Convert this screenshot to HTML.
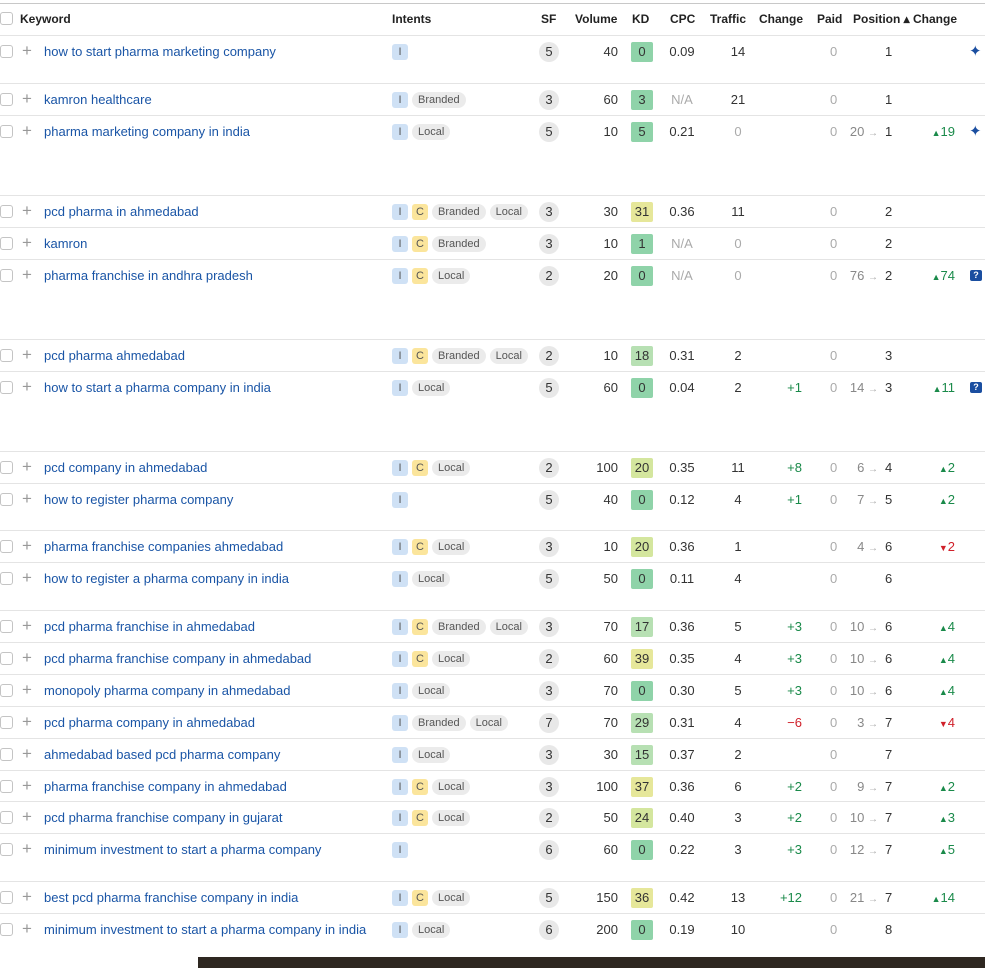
<!DOCTYPE html>
<html><head><meta charset="utf-8"><style>
*{margin:0;padding:0;box-sizing:border-box}
body{width:985px;height:968px;background:#fff;position:relative;overflow:hidden;font-family:"Liberation Sans",sans-serif;font-size:13px;color:#333}
.top{position:absolute;left:0;top:3px;width:985px;height:1px;background:#c8c8c8}
.hd{position:absolute;top:12px;font-weight:bold;font-size:12px;color:#222}
.r{position:absolute;left:0;width:985px;border-top:1px solid #e4e4e4}
.r>*{position:absolute;top:8px;line-height:16px;white-space:nowrap}
.cb{left:0;top:9px!important;width:13px;height:13px;border:1px solid #c4c4c4;border-radius:3px;display:block}
.pl{left:22px;color:#999;font-size:17px;top:7px!important}
.kw{left:44px;color:#1a55a6}
.in{left:392px;display:flex;gap:4px}
.in b{font-weight:normal;font-size:11px;height:16px;line-height:16px;border-radius:3px;padding:0 5px;color:#555}
.bi,.bc{width:16px;padding:0!important;text-align:center}
.bi{background:#cfe1f5}.bc{background:#fbe59c}.bt{background:#ebebeb;border-radius:8px!important;padding:0 6px!important}
.sf{left:539px;width:20px;height:20px;top:6px!important;line-height:20px!important;border-radius:10px;background:#e8e8e8;text-align:center}
.vol{right:367px;text-align:right}
.kd{left:631px;width:22px;height:20px;top:6px!important;line-height:20px!important;text-align:center;border-radius:2px}
.g{background:#8fd3a9}.lg{background:#b7e0b3}.yg{background:#d4e69e}.y{background:#e6e79a}
.cpc{left:666px;width:32px;text-align:center}
.tr{left:722px;width:32px;text-align:center}
.ch{right:183px;color:#1a8a4a}
.pd{left:830px;color:#aaa}
.pv{right:107px;color:#888}
.pv i{font-style:normal;font-size:10px;color:#aaa}
.ps{left:885px}
.c2{right:30px;color:#1a8a4a;font-size:13px}
.c2 i{font-style:normal;font-size:9px}
.red{color:#d0202a}
.na{color:#aaa}
.ic{left:969px;color:#1a4ea0;font-size:15px}
.bub{left:970px;top:10px!important;width:12px;height:11px;background:#1a4ea0;border-radius:2px;color:#fff;font-size:9px;line-height:11px!important;text-align:center;font-weight:bold}
.tb{position:absolute;left:198px;top:957px;width:787px;height:11px;background:#2e2721}
</style></head><body>
<div class="top"></div>
<div style="position:absolute;top:12px;left:0;width:13px;height:13px;border:1px solid #c4c4c4;border-radius:3px"></div>
<div class="hd" style="left:20px">Keyword</div>
<div class="hd" style="left:392px">Intents</div>
<div class="hd" style="left:541px">SF</div>
<div class="hd" style="left:575px">Volume</div>
<div class="hd" style="left:632px">KD</div>
<div class="hd" style="left:670px">CPC</div>
<div class="hd" style="left:710px">Traffic</div>
<div class="hd" style="left:759px">Change</div>
<div class="hd" style="left:817px">Paid</div>
<div class="hd" style="left:853px">Position ▴</div>
<div class="hd" style="left:913px">Change</div>

<div class="r" style="top:35px;height:48px"><i class="cb"></i><span class="pl">+</span><span class="kw">how to start pharma marketing company</span><span class="in"><b class="bi">I</b></span><span class="sf">5</span><span class="vol">40</span><span class="kd g">0</span><span class="cpc">0.09</span><span class="tr">14</span><span class="pd">0</span><span class="ps">1</span><span class="ic">✦</span></div>
<div class="r" style="top:83px;height:32px"><i class="cb"></i><span class="pl">+</span><span class="kw">kamron healthcare</span><span class="in"><b class="bi">I</b><b class="bt">Branded</b></span><span class="sf">3</span><span class="vol">60</span><span class="kd g">3</span><span class="cpc na">N/A</span><span class="tr">21</span><span class="pd">0</span><span class="ps">1</span></div>
<div class="r" style="top:115px;height:80px"><i class="cb"></i><span class="pl">+</span><span class="kw">pharma marketing company in india</span><span class="in"><b class="bi">I</b><b class="bt">Local</b></span><span class="sf">5</span><span class="vol">10</span><span class="kd g">5</span><span class="cpc">0.21</span><span class="tr na">0</span><span class="pd">0</span><span class="pv">20 <i>→</i></span><span class="ps">1</span><span class="c2"><i>▲</i>19</span><span class="ic">✦</span></div>
<div class="r" style="top:195px;height:32px"><i class="cb"></i><span class="pl">+</span><span class="kw">pcd pharma in ahmedabad</span><span class="in"><b class="bi">I</b><b class="bc">C</b><b class="bt">Branded</b><b class="bt">Local</b></span><span class="sf">3</span><span class="vol">30</span><span class="kd y">31</span><span class="cpc">0.36</span><span class="tr">11</span><span class="pd">0</span><span class="ps">2</span></div>
<div class="r" style="top:227px;height:32px"><i class="cb"></i><span class="pl">+</span><span class="kw">kamron</span><span class="in"><b class="bi">I</b><b class="bc">C</b><b class="bt">Branded</b></span><span class="sf">3</span><span class="vol">10</span><span class="kd g">1</span><span class="cpc na">N/A</span><span class="tr na">0</span><span class="pd">0</span><span class="ps">2</span></div>
<div class="r" style="top:259px;height:80px"><i class="cb"></i><span class="pl">+</span><span class="kw">pharma franchise in andhra pradesh</span><span class="in"><b class="bi">I</b><b class="bc">C</b><b class="bt">Local</b></span><span class="sf">2</span><span class="vol">20</span><span class="kd g">0</span><span class="cpc na">N/A</span><span class="tr na">0</span><span class="pd">0</span><span class="pv">76 <i>→</i></span><span class="ps">2</span><span class="c2"><i>▲</i>74</span><span class="bub">?</span></div>
<div class="r" style="top:339px;height:32px"><i class="cb"></i><span class="pl">+</span><span class="kw">pcd pharma ahmedabad</span><span class="in"><b class="bi">I</b><b class="bc">C</b><b class="bt">Branded</b><b class="bt">Local</b></span><span class="sf">2</span><span class="vol">10</span><span class="kd lg">18</span><span class="cpc">0.31</span><span class="tr">2</span><span class="pd">0</span><span class="ps">3</span></div>
<div class="r" style="top:371px;height:80px"><i class="cb"></i><span class="pl">+</span><span class="kw">how to start a pharma company in india</span><span class="in"><b class="bi">I</b><b class="bt">Local</b></span><span class="sf">5</span><span class="vol">60</span><span class="kd g">0</span><span class="cpc">0.04</span><span class="tr">2</span><span class="ch">+1</span><span class="pd">0</span><span class="pv">14 <i>→</i></span><span class="ps">3</span><span class="c2"><i>▲</i>11</span><span class="bub">?</span></div>
<div class="r" style="top:451px;height:32px"><i class="cb"></i><span class="pl">+</span><span class="kw">pcd company in ahmedabad</span><span class="in"><b class="bi">I</b><b class="bc">C</b><b class="bt">Local</b></span><span class="sf">2</span><span class="vol">100</span><span class="kd yg">20</span><span class="cpc">0.35</span><span class="tr">11</span><span class="ch">+8</span><span class="pd">0</span><span class="pv">6 <i>→</i></span><span class="ps">4</span><span class="c2"><i>▲</i>2</span></div>
<div class="r" style="top:483px;height:47px"><i class="cb"></i><span class="pl">+</span><span class="kw">how to register pharma company</span><span class="in"><b class="bi">I</b></span><span class="sf">5</span><span class="vol">40</span><span class="kd g">0</span><span class="cpc">0.12</span><span class="tr">4</span><span class="ch">+1</span><span class="pd">0</span><span class="pv">7 <i>→</i></span><span class="ps">5</span><span class="c2"><i>▲</i>2</span></div>
<div class="r" style="top:530px;height:32px"><i class="cb"></i><span class="pl">+</span><span class="kw">pharma franchise companies ahmedabad</span><span class="in"><b class="bi">I</b><b class="bc">C</b><b class="bt">Local</b></span><span class="sf">3</span><span class="vol">10</span><span class="kd yg">20</span><span class="cpc">0.36</span><span class="tr">1</span><span class="pd">0</span><span class="pv">4 <i>→</i></span><span class="ps">6</span><span class="c2 red"><i>▼</i>2</span></div>
<div class="r" style="top:562px;height:48px"><i class="cb"></i><span class="pl">+</span><span class="kw">how to register a pharma company in india</span><span class="in"><b class="bi">I</b><b class="bt">Local</b></span><span class="sf">5</span><span class="vol">50</span><span class="kd g">0</span><span class="cpc">0.11</span><span class="tr">4</span><span class="pd">0</span><span class="ps">6</span></div>
<div class="r" style="top:610px;height:32px"><i class="cb"></i><span class="pl">+</span><span class="kw">pcd pharma franchise in ahmedabad</span><span class="in"><b class="bi">I</b><b class="bc">C</b><b class="bt">Branded</b><b class="bt">Local</b></span><span class="sf">3</span><span class="vol">70</span><span class="kd lg">17</span><span class="cpc">0.36</span><span class="tr">5</span><span class="ch">+3</span><span class="pd">0</span><span class="pv">10 <i>→</i></span><span class="ps">6</span><span class="c2"><i>▲</i>4</span></div>
<div class="r" style="top:642px;height:32px"><i class="cb"></i><span class="pl">+</span><span class="kw">pcd pharma franchise company in ahmedabad</span><span class="in"><b class="bi">I</b><b class="bc">C</b><b class="bt">Local</b></span><span class="sf">2</span><span class="vol">60</span><span class="kd y">39</span><span class="cpc">0.35</span><span class="tr">4</span><span class="ch">+3</span><span class="pd">0</span><span class="pv">10 <i>→</i></span><span class="ps">6</span><span class="c2"><i>▲</i>4</span></div>
<div class="r" style="top:674px;height:32px"><i class="cb"></i><span class="pl">+</span><span class="kw">monopoly pharma company in ahmedabad</span><span class="in"><b class="bi">I</b><b class="bt">Local</b></span><span class="sf">3</span><span class="vol">70</span><span class="kd g">0</span><span class="cpc">0.30</span><span class="tr">5</span><span class="ch">+3</span><span class="pd">0</span><span class="pv">10 <i>→</i></span><span class="ps">6</span><span class="c2"><i>▲</i>4</span></div>
<div class="r" style="top:706px;height:32px"><i class="cb"></i><span class="pl">+</span><span class="kw">pcd pharma company in ahmedabad</span><span class="in"><b class="bi">I</b><b class="bt">Branded</b><b class="bt">Local</b></span><span class="sf">7</span><span class="vol">70</span><span class="kd lg">29</span><span class="cpc">0.31</span><span class="tr">4</span><span class="ch red">−6</span><span class="pd">0</span><span class="pv">3 <i>→</i></span><span class="ps">7</span><span class="c2 red"><i>▼</i>4</span></div>
<div class="r" style="top:738px;height:32px"><i class="cb"></i><span class="pl">+</span><span class="kw">ahmedabad based pcd pharma company</span><span class="in"><b class="bi">I</b><b class="bt">Local</b></span><span class="sf">3</span><span class="vol">30</span><span class="kd lg">15</span><span class="cpc">0.37</span><span class="tr">2</span><span class="pd">0</span><span class="ps">7</span></div>
<div class="r" style="top:770px;height:31px"><i class="cb"></i><span class="pl">+</span><span class="kw">pharma franchise company in ahmedabad</span><span class="in"><b class="bi">I</b><b class="bc">C</b><b class="bt">Local</b></span><span class="sf">3</span><span class="vol">100</span><span class="kd y">37</span><span class="cpc">0.36</span><span class="tr">6</span><span class="ch">+2</span><span class="pd">0</span><span class="pv">9 <i>→</i></span><span class="ps">7</span><span class="c2"><i>▲</i>2</span></div>
<div class="r" style="top:801px;height:32px"><i class="cb"></i><span class="pl">+</span><span class="kw">pcd pharma franchise company in gujarat</span><span class="in"><b class="bi">I</b><b class="bc">C</b><b class="bt">Local</b></span><span class="sf">2</span><span class="vol">50</span><span class="kd yg">24</span><span class="cpc">0.40</span><span class="tr">3</span><span class="ch">+2</span><span class="pd">0</span><span class="pv">10 <i>→</i></span><span class="ps">7</span><span class="c2"><i>▲</i>3</span></div>
<div class="r" style="top:833px;height:48px"><i class="cb"></i><span class="pl">+</span><span class="kw">minimum investment to start a pharma company</span><span class="in"><b class="bi">I</b></span><span class="sf">6</span><span class="vol">60</span><span class="kd g">0</span><span class="cpc">0.22</span><span class="tr">3</span><span class="ch">+3</span><span class="pd">0</span><span class="pv">12 <i>→</i></span><span class="ps">7</span><span class="c2"><i>▲</i>5</span></div>
<div class="r" style="top:881px;height:32px"><i class="cb"></i><span class="pl">+</span><span class="kw">best pcd pharma franchise company in india</span><span class="in"><b class="bi">I</b><b class="bc">C</b><b class="bt">Local</b></span><span class="sf">5</span><span class="vol">150</span><span class="kd y">36</span><span class="cpc">0.42</span><span class="tr">13</span><span class="ch">+12</span><span class="pd">0</span><span class="pv">21 <i>→</i></span><span class="ps">7</span><span class="c2"><i>▲</i>14</span></div>
<div class="r" style="top:913px;height:44px"><i class="cb"></i><span class="pl">+</span><span class="kw">minimum investment to start a pharma company in india</span><span class="in"><b class="bi">I</b><b class="bt">Local</b></span><span class="sf">6</span><span class="vol">200</span><span class="kd g">0</span><span class="cpc">0.19</span><span class="tr">10</span><span class="pd">0</span><span class="ps">8</span></div>
<div class="tb"></div>
</body></html>
